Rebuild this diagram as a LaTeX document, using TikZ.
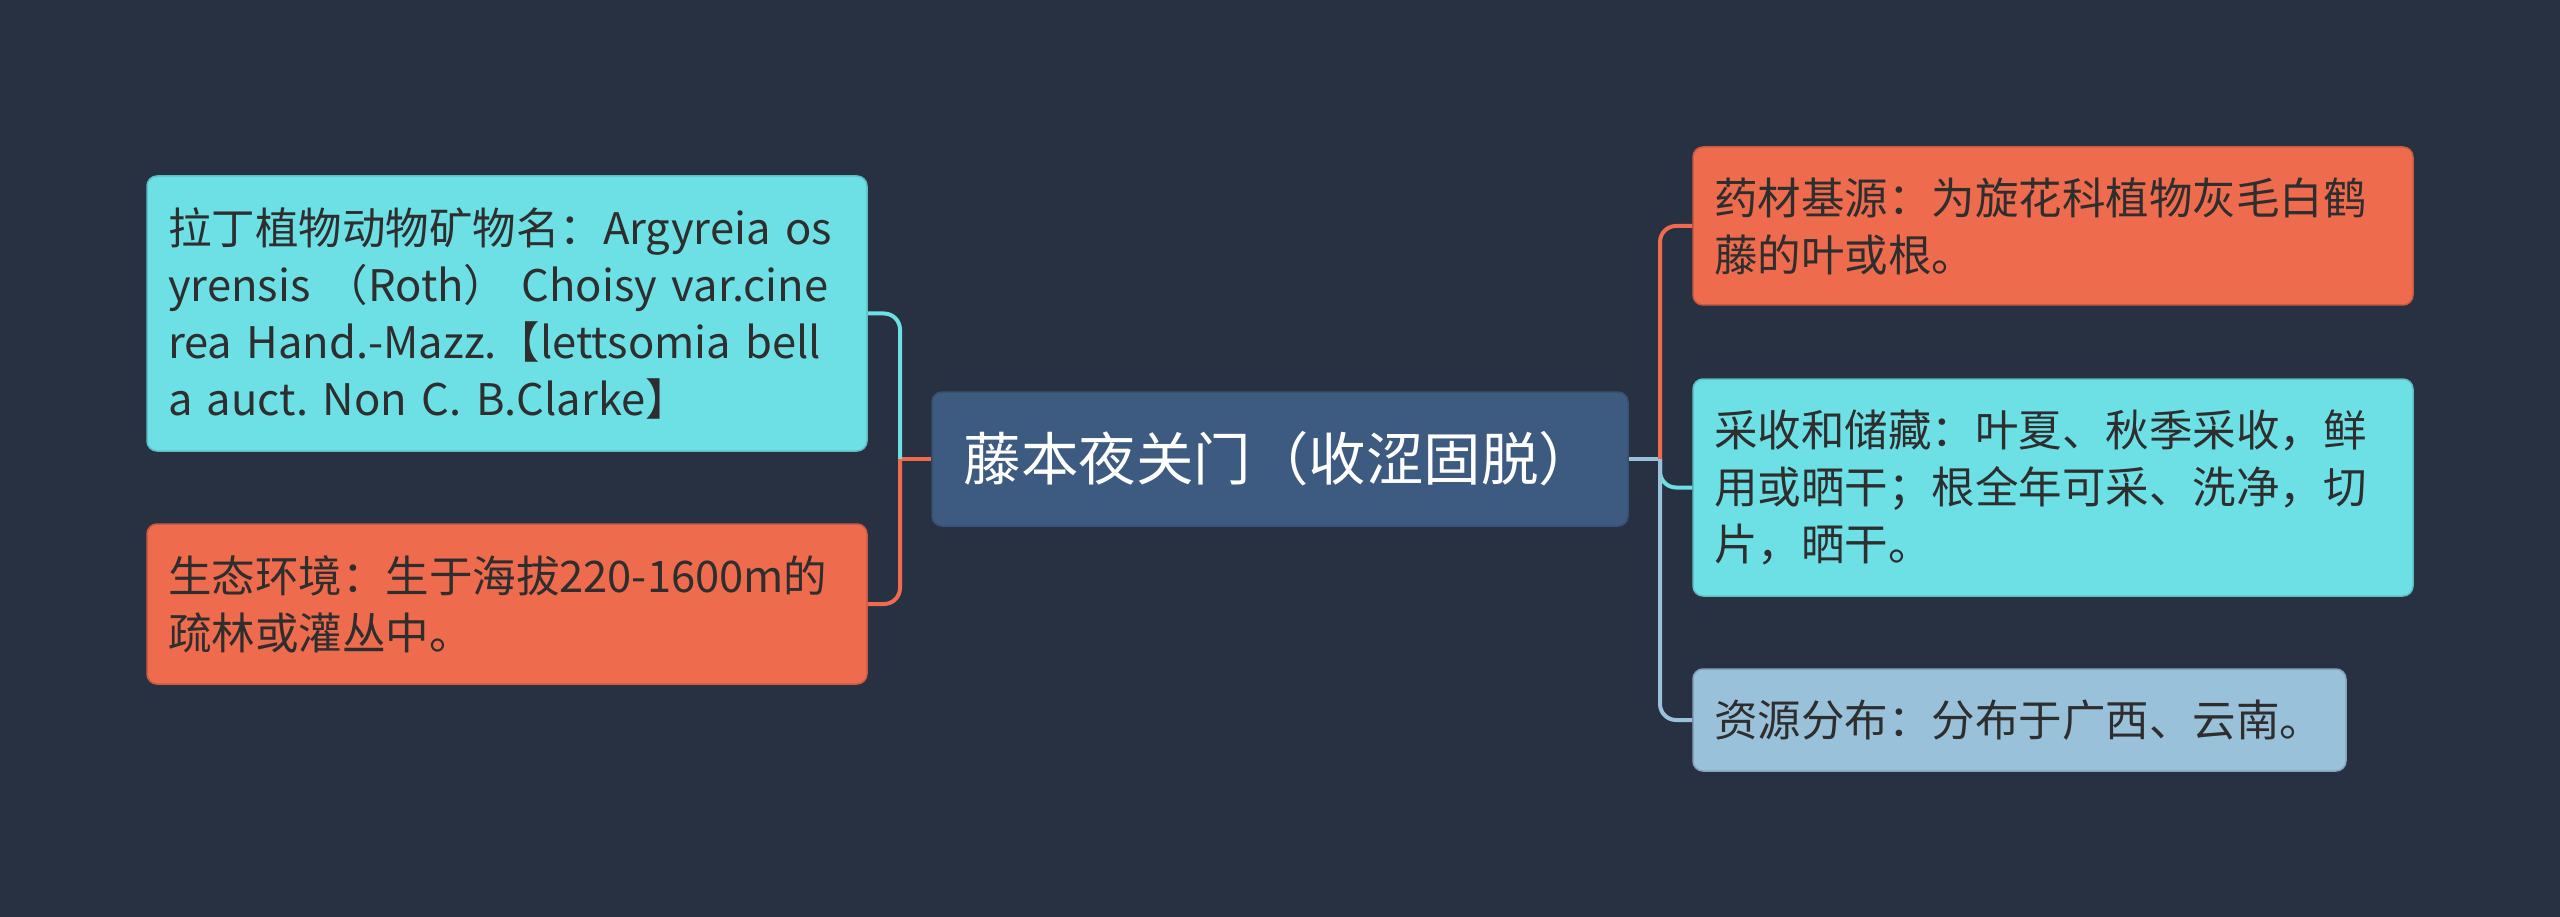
\documentclass[tikz,border=0pt]{standalone}
\usepackage{fontspec}
\setmainfont{Noto Sans CJK SC}
\frenchspacing
\definecolor{bg}{HTML}{283142}
\definecolor{cen}{HTML}{3D5A80}
\definecolor{cyanb}{HTML}{6DE0E5}
\definecolor{orab}{HTML}{EE6B4D}
\definecolor{lblue}{HTML}{9AC1DA}
\definecolor{txt}{HTML}{2E2E2E}
\begin{document}
\begin{tikzpicture}[x=1pt,y=-1pt,
  box/.style={rounded corners=10pt, inner sep=0pt, align=left, text=txt,
    font=\fontsize{43.5}{57}\selectfont, line width=1.5pt},
  conn/.style={line width=4pt, rounded corners=16pt}]
\fill[bg] (0,0) rectangle (2560,917);
\useasboundingbox (0,0) rectangle (2560,917);
% center
\node[box, fill=cen, draw=cen!90!black, text=white, align=center,
  font=\fontsize{57.5}{62}\selectfont,
  minimum width=696pt, minimum height=134pt] (c) at (1280,459) {藤本夜关门（收涩固脱）};
% left
\node[box, fill=cyanb, draw=cyanb!85!black, minimum width=720pt, minimum height=275pt, text width=678pt]
  (l1) at (507,313.5) {拉丁植物动物矿物名：Argyreia os\\yrensis （Roth） Choisy var.cine\\rea Hand.-Mazz.【lettsomia bell\\a auct. Non C. B.Clarke】};
\node[box, fill=orab, draw=orab!85!black, minimum width=720pt, minimum height=160pt, text width=678pt]
  (l2) at (507,604) {生态环境：生于海拔220-1600m的\\疏林或灌丛中。};
% right
\node[box, fill=orab, draw=orab!85!black, minimum width=720pt, minimum height=158pt, text width=678pt]
  (r1) at (2053,226) {药材基源：为旋花科植物灰毛白鹤\\藤的叶或根。};
\node[box, fill=cyanb, draw=cyanb!85!black, minimum width=720pt, minimum height=217pt, text width=678pt]
  (r2) at (2053,487.5) {采收和储藏：叶夏、秋季采收，鲜\\用或晒干；根全年可采、洗净，切\\片，晒干。};
\node[box, fill=lblue, draw=lblue!85!black, minimum width=653pt, minimum height=102pt, text width=611pt]
  (r3) at (2019.5,720) {资源分布：分布于广西、云南。};
% connectors
\coordinate (lj) at (900,459);
\coordinate (rj) at (1660,459);
\draw[conn, orab] (c.west) -- (lj);
\draw[conn, cyanb] (lj) |- (l1.east);
\draw[conn, orab] (lj) |- (l2.east);
\draw[conn, lblue] (c.east) -- (rj);
\draw[conn, orab] (rj) |- (r1.west);
\draw[conn, cyanb] (rj) |- (r2.west);
\draw[conn, lblue] (rj) |- (r3.west);
\end{tikzpicture}
\end{document}
